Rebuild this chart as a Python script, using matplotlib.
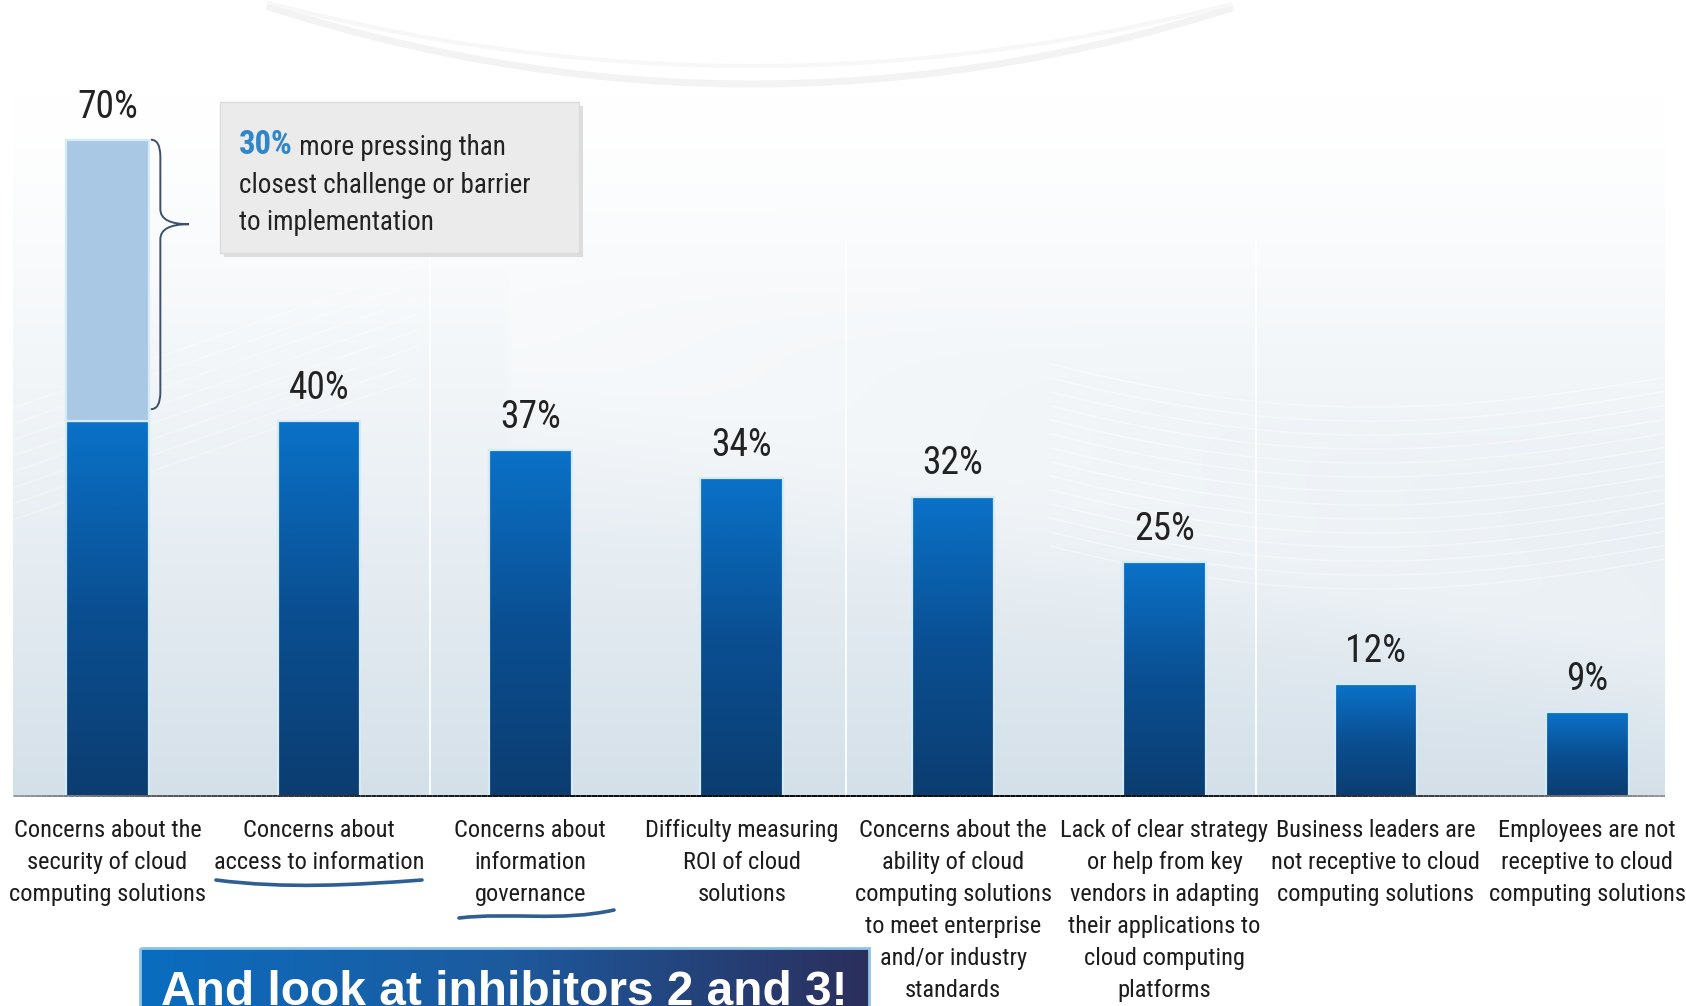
import numpy as np
import matplotlib
matplotlib.use("Agg")
import matplotlib.pyplot as plt
from matplotlib.patches import Rectangle, PathPatch
from matplotlib.path import Path
from matplotlib.collections import LineCollection
from matplotlib.colors import LinearSegmentedColormap

# ---------------- data ----------------
categories = [
    "Concerns about the\nsecurity of cloud\ncomputing solutions",
    "Concerns about\naccess to information",
    "Concerns about\ninformation\ngovernance",
    "Difficulty measuring\nROI of cloud\nsolutions",
    "Concerns about the\nability of cloud\ncomputing solutions\nto meet enterprise\nand/or industry\nstandards",
    "Lack of clear strategy\nor help from key\nvendors in adapting\ntheir applications to\ncloud computing\nplatforms",
    "Business leaders are\nnot receptive to cloud\ncomputing solutions",
    "Employees are not\nreceptive to cloud\ncomputing solutions",
]
values = [70, 40, 37, 34, 32, 25, 12, 9]
value_labels = ["70%", "40%", "37%", "34%", "32%", "25%", "12%", "9%"]
callout_pct = "30%"
callout_lines = [" more pressing than", "closest challenge or barrier", "to implementation"]
banner_text = "And look at inhibitors 2 and 3!"

NARROW = ["Liberation Sans Narrow", "Arial Narrow", "Roboto Condensed", "PT Sans Narrow",
          "Archivo Narrow", "IBM Plex Sans Condensed", "DejaVu Sans"]
W, H = 1686, 1006
fig = plt.figure(figsize=(W / 100, H / 100), dpi=100)
fig.patch.set_facecolor("white")

# ---------------- background layer (pixel coords) ----------------
bg = fig.add_axes([0, 0, 1, 1], zorder=0)
bg.set_xlim(0, W)
bg.set_ylim(H, 0)
bg.axis("off")

base_y = 797
ny, nx = 200, 200
yy = np.linspace(0, 1, ny)[:, None]
xx = np.linspace(0, 1, nx)[None, :]
t = np.clip((yy - 0.12) / 0.88, 0, 1) ** 1.3
top_c = np.array([1.0, 1.0, 1.0])
bot_c = np.array([0xd4, 0xe0, 0xe9]) / 255.0
img = top_c[None, None, :] * (1 - t[..., None]) + bot_c[None, None, :] * t[..., None]
img = np.broadcast_to(img, (ny, nx, 3)).copy()
band = np.exp(-((yy - (0.30 + 0.50 * xx)) ** 2) / 0.012) * (xx > 0.3) * 0.30
img = img + (1 - img) * band[..., None]
bg.imshow(img, extent=[13, 1665, base_y, 0], aspect="auto", zorder=0, interpolation="bilinear")

# faint arcs at top
xs = np.linspace(270, 1230, 200)
bg.plot(xs, 84 - 3.3e-4 * (xs - 752) ** 2, color="#f1f1f1", lw=5, alpha=0.8, zorder=1)
bg.plot(xs, 66 - 2.7e-4 * (xs - 752) ** 2, color="#f6f6f6", lw=3, alpha=0.8, zorder=1)

# faint white wave lines
for k in range(14):
    xw = np.linspace(1050, 1665, 200)
    yw = 330 + k * 14 + 60 * np.sin((xw - 1050) / 260.0 + 0.6) + 0.06 * (xw - 1050)
    bg.plot(xw, yw, color="white", lw=1.0, alpha=0.45, zorder=1)
for k in range(8):
    xw = np.linspace(13, 420, 100)
    yw = 520 - k * 16 - 0.35 * (xw - 13)
    bg.plot(xw, yw, color="white", lw=1.0, alpha=0.3, zorder=1)

# faint vertical separators
for xv in [430, 846, 1256]:
    bg.plot([xv, xv], [240, base_y], color="white", lw=1.5, alpha=0.9, zorder=1)

# ---------------- main chart axes ----------------
px_per_pct = 9.39
centers_px0, step_px = 107.5, 211.4
x_left, x_right = 13, 1665
ax = fig.add_axes([x_left / W, (H - base_y) / H, (x_right - x_left) / W, base_y / H], zorder=2)
ax.patch.set_alpha(0)
ax.axis("off")
xlim = ((x_left - centers_px0) / step_px, (x_right - centers_px0) / step_px)
ylim = (0, base_y / px_per_pct)

x = np.arange(len(values))
dark = list(values)
dark[0] = values[1]            # portion equal to the closest challenge
extra = values[0] - values[1]  # 30% more pressing

bw = 0.39
cmap_bar = LinearSegmentedColormap.from_list("bar", ["#0c3d70", "#0a4f92", "#0a72c8"])
bars = ax.bar(x, dark, width=bw, facecolor="none", edgecolor="#d4ebfa", linewidth=1.6, zorder=4)
grad = np.linspace(0, 1, 256)[:, None]
for b in bars:
    x0, y0 = b.get_x(), b.get_y()
    im = ax.imshow(grad, extent=[x0, x0 + b.get_width(), y0, y0 + b.get_height()],
                   origin="lower", aspect="auto", cmap=cmap_bar, zorder=3, interpolation="bilinear")
    im.set_clip_path(b)

light = ax.bar([x[0]], [extra], bottom=[dark[0]], width=bw, color="#a8c8e4",
               edgecolor="#d4ebfa", linewidth=1.6, zorder=4)

# value labels
for xi, v, lab in zip(x, values, value_labels):
    ax.text(xi, v + 2.35, lab, ha="center", va="baseline", fontsize=27,
            family=NARROW, color="#222222", zorder=6)

# category labels
for xi, cat in zip(x, categories):
    ax.text(xi, -2.3, cat, ha="center", va="top", fontsize=17.6, linespacing=1.51,
            family=NARROW, color="#1c1c1c", clip_on=False, zorder=6)

# baseline with fading ends
nseg = 300
bx = np.linspace(xlim[0], xlim[1], nseg + 1)
segs = [[(bx[i], 0), (bx[i + 1], 0)] for i in range(nseg)]
u = (bx[:-1] - xlim[0]) / (xlim[1] - xlim[0])
shade = 0.05 + 0.55 * (np.abs(u - 0.5) / 0.5) ** 3
cols = [(s, s, s, 1) for s in shade]
ax.add_collection(LineCollection(segs, colors=cols, linewidths=3.6, zorder=5, capstyle="butt"))

# brace next to the first bar
bx0 = x[0] + bw / 2 + 0.01
bxm = bx0 + 0.045
btip = bx0 + 0.18
ytop, ybot = values[0], values[1] + 1.3
ymid = 61
verts = [
    (bx0, ytop), (bxm, ytop), (bxm, ytop - 1.8),
    (bxm, ymid + 1.6),
    (bxm, ymid), (btip, ymid),
    (bxm, ymid), (bxm, ymid - 1.6),
    (bxm, ybot + 1.8),
    (bxm, ybot), (bx0, ybot),
]
codes = [Path.MOVETO, Path.CURVE3, Path.CURVE3, Path.LINETO,
         Path.CURVE3, Path.CURVE3, Path.CURVE3, Path.CURVE3,
         Path.LINETO, Path.CURVE3, Path.CURVE3]
ax.add_patch(PathPatch(Path(verts, codes), facecolor="none", edgecolor="#3d4f6e", lw=1.4, zorder=6))

ax.set_xlim(*xlim)
ax.set_ylim(*ylim)

# ---------------- overlay (pixel coords) ----------------
ov = fig.add_axes([0, 0, 1, 1], zorder=3)
ov.patch.set_alpha(0)
ov.set_xlim(0, W)
ov.set_ylim(H, 0)
ov.axis("off")

# callout box with shadow
ov.add_patch(Rectangle((224, 106), 359, 151, facecolor="#c9c9c9", edgecolor="none", alpha=0.6, zorder=1))
ov.add_patch(Rectangle((220, 102), 359, 151, facecolor="#ebebeb", edgecolor="#dcdcdc", lw=1, zorder=2))
t1 = ov.text(239, 154, callout_pct, color="#2f87c9", fontsize=23.5, fontweight="bold",
             family=NARROW, ha="left", va="baseline", zorder=3)
ov.annotate(callout_lines[0], xy=(1, 0), xycoords=t1, ha="left", va="bottom",
            fontsize=19.5, family=NARROW, color="#222222", zorder=3)
ov.text(239, 193, callout_lines[1], color="#222222", fontsize=19.5, family=NARROW,
        ha="left", va="baseline", zorder=3)
ov.text(239, 230, callout_lines[2], color="#222222", fontsize=19.5, family=NARROW,
        ha="left", va="baseline", zorder=3)

# hand-drawn underlines
ucol = "#2e5e92"
p1 = Path([(216, 880), (285, 889), (355, 885), (422, 880)],
          [Path.MOVETO, Path.CURVE4, Path.CURVE4, Path.CURVE4])
p2 = Path([(459, 918), (510, 912), (560, 922), (614, 910)],
          [Path.MOVETO, Path.CURVE4, Path.CURVE4, Path.CURVE4])
for p in (p1, p2):
    ov.add_patch(PathPatch(p, facecolor="none", edgecolor=ucol, lw=2.6, capstyle="round", zorder=4))

# banner
bgrad = np.linspace(0, 1, 256)[None, :]
cmap_ban = LinearSegmentedColormap.from_list("ban", ["#0a6dbf", "#1d5a9e", "#2b2f5c"])
ov.imshow(bgrad, extent=[140, 869, 1010, 948], aspect="auto", cmap=cmap_ban, zorder=5,
          interpolation="bilinear")
ov.add_patch(Rectangle((140, 948), 729, 70, facecolor="none", edgecolor="#8ec3ea", lw=2, zorder=6))
ov.text(161, 1005, banner_text, color="white", fontsize=34.5, fontweight="bold",
        family=["Liberation Sans", "Arimo", "DejaVu Sans"], ha="left", va="baseline", zorder=7)
ov.set_xlim(0, W)
ov.set_ylim(H, 0)

fig.savefig("out.png", dpi=100)
